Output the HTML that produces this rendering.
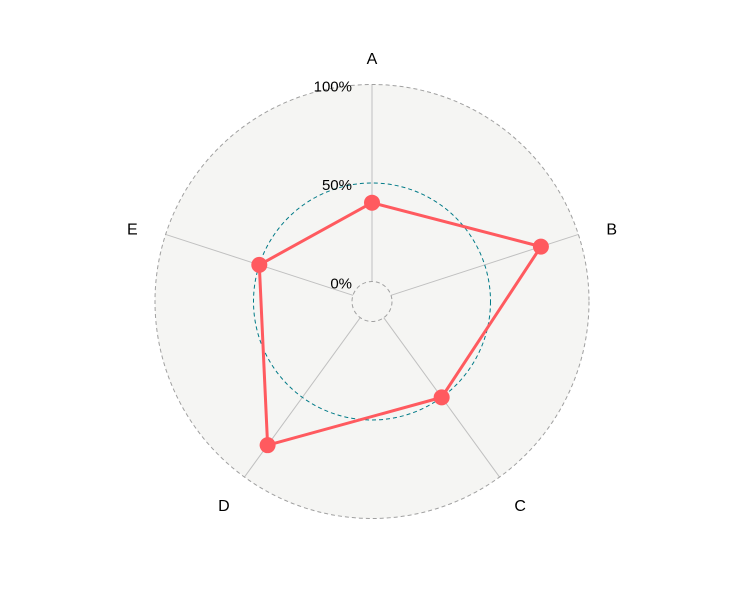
<!DOCTYPE html>
<html><head><meta charset="utf-8"><style>body{margin:0;background:#fff}svg{display:block}text{font-family:"Liberation Sans",sans-serif}</style></head>
<body>
<svg id="c" width="739" height="610"></svg>
<script>
const categories=["A","B","C","D","E"];
const values=[0.40,0.80,0.50,0.80,0.50];
const gridValues=[0,0.5,1];
const gridLabels=["0%","50%","100%"];
const cx=372,cy=301.5,r0=20,r1=217;
const NS="http://www.w3.org/2000/svg";
const svg=document.getElementById("c");
function rad(v){return r0+v*(r1-r0);}
function ang(i){return -Math.PI/2+i*2*Math.PI/categories.length;}
function pt(i,r){return [cx+r*Math.cos(ang(i)),cy+r*Math.sin(ang(i))];}
function mk(t,a){const e=document.createElementNS(NS,t);for(const k in a)e.setAttribute(k,a[k]);svg.appendChild(e);return e;}
let bg=mk("circle",{cx:cx,cy:cy,r:r1,fill:"#f5f5f3"});


categories.forEach((c,i)=>{
 const a=pt(i,r0),b=pt(i,r1);
 let l=mk("line",{x1:a[0],y1:a[1],x2:b[0],y2:b[1],stroke:"#c0c0c0","stroke-width":1});
 
 
 const p=pt(i,252);
 const s=Math.sin(ang(i));
 let t=mk("text",{x:p[0],y:p[1]+11-5*(s+0.31),"text-anchor":"middle","font-size":16,fill:"#000"});
 t.textContent=c;
 
 
});
gridValues.forEach((g,k)=>{
 let ci=mk("circle",{cx:cx,cy:cy,r:rad(g),fill:"none",stroke:g===0.5?"#007A87":"#a0a0a0","stroke-width":1,"stroke-dasharray":"4,3"});
 
 
 let t=mk("text",{x:352,y:cy-rad(g)+7,"text-anchor":"end","font-size":15,fill:"#000"});
 t.textContent=gridLabels[k];
 
 
});
const pts=values.map((v,i)=>pt(i,rad(v)));
let poly=mk("polygon",{points:pts.map(p=>p.join(",")).join(" "),fill:"none",stroke:"#FF5A5F","stroke-width":3,"stroke-linejoin":"round"});


pts.forEach((p,i)=>{
 let d=mk("circle",{cx:p[0],cy:p[1],r:8,fill:"#FF5A5F"});
 
 
});
</script>
</body></html>
